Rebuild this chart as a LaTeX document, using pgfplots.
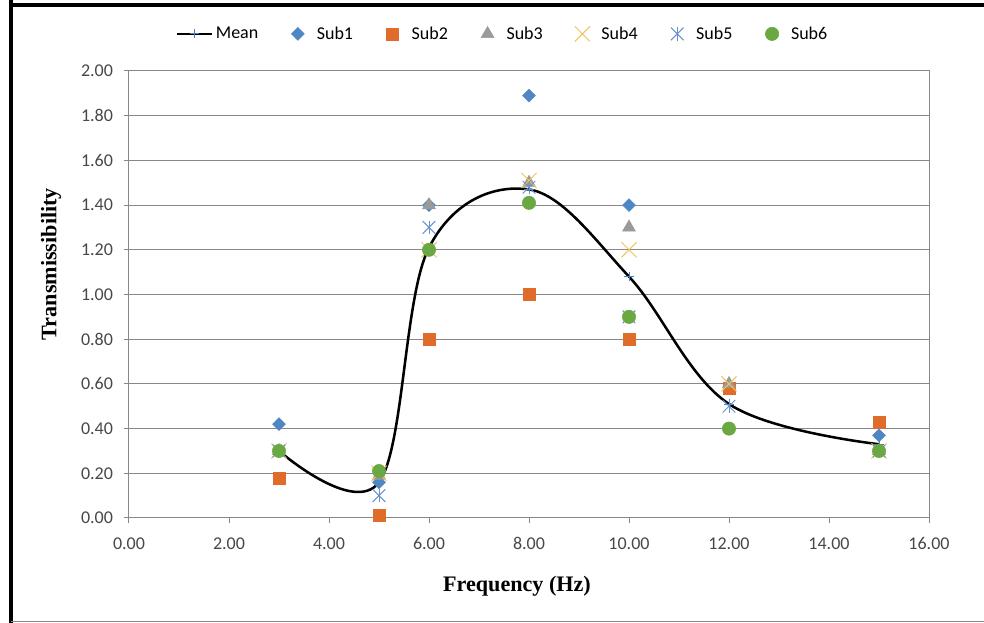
\documentclass[border=0pt]{standalone}
\usepackage{pgfplots}
\pgfplotsset{compat=1.18}
\usepackage{fontspec}
\setmainfont{Carlito}
\newfontfamily\serifb{Liberation Serif}

\definecolor{gridgray}{HTML}{888888}
\definecolor{cmean}{HTML}{4A7EBB}
\definecolor{csub1}{HTML}{4F87C5}
\definecolor{csub2}{HTML}{E06C2B}
\definecolor{csub3}{HTML}{9A9A9A}
\definecolor{csub4}{HTML}{EEC45A}
\definecolor{csub5}{HTML}{6A8FD0}
\definecolor{csub6}{HTML}{6AA842}

\pgfplotsset{
    meanlegend/.style={
        legend image code/.code={\draw[mark repeat=2, mark phase=2, ##1]
            plot coordinates {(0pt,0pt) (13pt,0pt) (26pt,0pt)};}},
    marklegend/.style={
        legend image code/.code={
            \path (-6pt,0pt) (12pt,0pt);
            \draw[##1] plot coordinates {(0pt,0pt)};}},
    asterisklegend/.style={
        legend image code/.code={
            \path (-6pt,0pt) (12pt,0pt);
            \draw[##1] plot coordinates {(0pt,0pt)};
            \draw[only marks, mark=|, mark size=5pt, csub5, line width=0.75pt]
                plot coordinates {(0pt,0pt)};}},
}

\begin{document}
\begin{tikzpicture}
\useasboundingbox (-96.75pt,-78.75pt) rectangle (641.25pt,388.5pt);
\begin{axis}[
    at={(0,0)}, anchor=south west,
    scale only axis,
    width=600pt, height=335.25pt,
    xmin=0, xmax=16, ymin=0, ymax=2,
    xtick={0,2,4,6,8,10,12,14,16},
    ytick={0,0.2,0.4,0.6,0.8,1.0,1.2,1.4,1.6,1.8,2.0},
    xtick pos=bottom, ytick pos=left,
    tick align=outside,
    major tick length=4pt,
    ymajorgrids=true,
    grid style={gridgray, line width=0.75pt},
    axis line style={gridgray, line width=0.75pt},
    tick style={gridgray, line width=0.75pt},
    tick label style={font=\fontsize{13.5}{16}\selectfont, text=black!72},
    xticklabel style={yshift=-7pt},
    yticklabel style={xshift=-4.5pt},
    /pgf/number format/fixed,
    /pgf/number format/fixed zerofill,
    /pgf/number format/precision=2,
    /pgf/number format/assume math mode=true,
    xlabel={Frequency (Hz)},
    ylabel={Transmissibility},
    label style={font=\serifb\bfseries\fontsize{16.6}{19}\selectfont},
    xlabel style={at={(axis description cs:0.485,-0.152)}, anchor=center},
    ylabel style={at={(axis description cs:-0.0975,0.568)}, anchor=center},
    clip=false,
    legend columns=7,
    legend style={
        at={(axis description cs:0.4675,1.083)}, anchor=center,
        draw=none, fill=none,
        font=\fontsize{13.5}{16}\selectfont,
        /tikz/every even column/.append style={column sep=21.5pt},
    },
]

\addplot[black, line width=1.9pt, smooth, tension=0.6,
    mark=+, mark size=3.4pt,
    mark options={solid, cmean, line width=0.6pt},
    meanlegend]
    coordinates {
    (3, 0.30) (5, 0.16) (6, 1.21) (8, 1.47) (10, 1.08) (12, 0.51) (15, 0.33)
    };
\addlegendentry{Mean}

\addplot[only marks, mark=square*, mark size=3.4pt,
    mark options={rotate=45, fill=csub1, draw=csub1}, marklegend]
    coordinates {
    (3, 0.42) (5, 0.16) (6, 1.40) (8, 1.89) (10, 1.40) (12, 0.40) (15, 0.37)
    };
\addlegendentry{Sub1}

\addplot[only marks, mark=square*, mark size=4.5pt,
    mark options={fill=csub2, draw=csub2}, marklegend]
    coordinates {
    (3, 0.18) (5, 0.01) (6, 0.80) (8, 1.00) (10, 0.80) (12, 0.58) (15, 0.43)
    };
\addlegendentry{Sub2}

\addplot[only marks, mark=triangle*, mark size=5.6pt,
    mark options={fill=csub3, draw=csub3}, marklegend]
    coordinates {
    (3, 0.30) (5, 0.19) (6, 1.40) (8, 1.50) (10, 1.30) (12, 0.60) (15, 0.30)
    };
\addlegendentry{Sub3}

\addplot[only marks, mark=x, mark size=8pt,
    mark options={draw=csub4, line width=0.75pt}, marklegend]
    coordinates {
    (3, 0.30) (5, 0.20) (6, 1.20) (8, 1.51) (10, 1.20) (12, 0.60) (15, 0.30)
    };
\addlegendentry{Sub4}

\addplot[only marks, mark=x, mark size=6.7pt,
    mark options={draw=csub5, line width=0.75pt},
    asterisklegend]
    coordinates {
    (3, 0.30) (5, 0.10) (6, 1.30) (8, 1.48) (10, 0.90) (12, 0.50) (15, 0.30)
    };
\addlegendentry{Sub5}
\addplot[only marks, mark=|, mark size=5pt,
    mark options={draw=csub5, line width=0.75pt}, forget plot]
    coordinates {
    (3, 0.30) (5, 0.10) (6, 1.30) (8, 1.48) (10, 0.90) (12, 0.50) (15, 0.30)
    };

\addplot[only marks, mark=*, mark size=5pt,
    mark options={fill=csub6, draw=csub6}, marklegend]
    coordinates {
    (3, 0.30) (5, 0.21) (6, 1.20) (8, 1.41) (10, 0.90) (12, 0.40) (15, 0.30)
    };
\addlegendentry{Sub6}

\end{axis}
\draw[black, line width=2.8pt] (-90pt,384.75pt) -- (641.25pt,384.75pt);
\draw[black, line width=3pt] (-88.5pt,388.5pt) -- (-88.5pt,-78.75pt);
\draw[gridgray, line width=0.75pt] (-88.5pt,-77.6pt) -- (641.25pt,-77.6pt);
\end{tikzpicture}
\end{document}
